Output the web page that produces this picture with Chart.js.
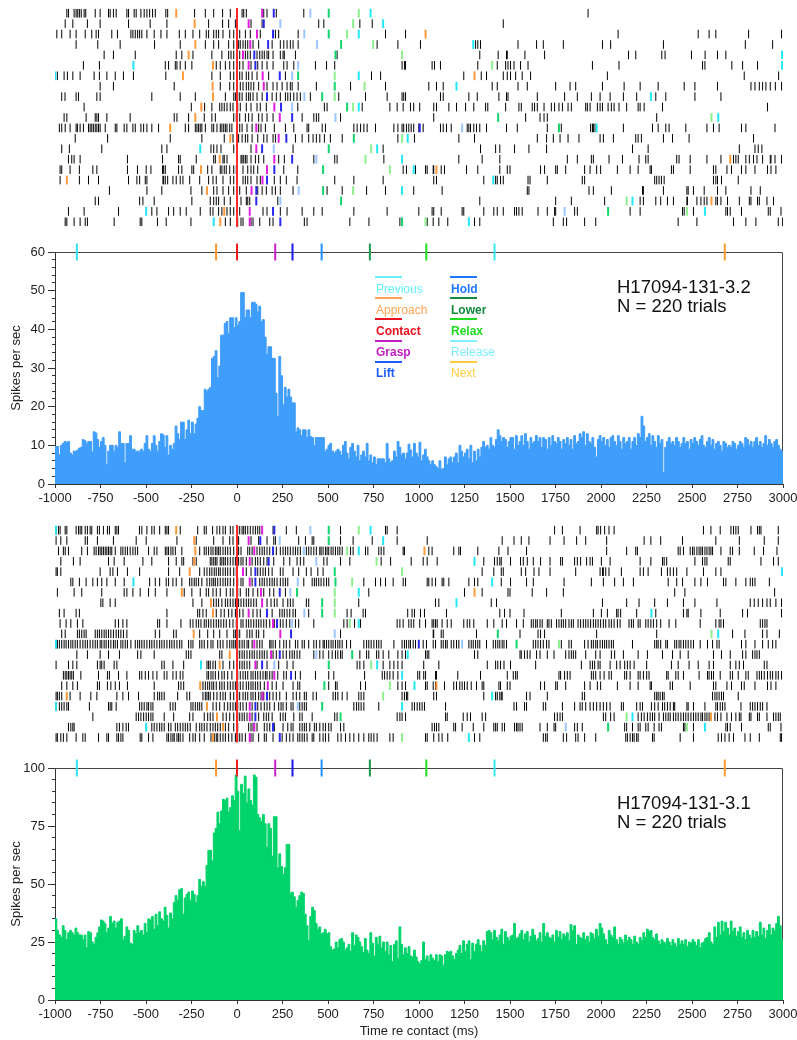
<!DOCTYPE html>
<html>
<head>
<meta charset="utf-8">
<title>Contact-aligned rasters and firing rate</title>
<script src="https://cdn.jsdelivr.net/npm/chart.js@4.4.1/dist/chart.umd.min.js"></script>
<style>
  html, body { margin: 0; padding: 0; background: #fff; }
  body { width: 797px; height: 1040px; position: relative; overflow: hidden;
         font-family: "Liberation Sans", Arial, Helvetica, sans-serif; }
  canvas { position: absolute; left: 0; }
  .unit { position: absolute; left: 617px; font-size: 18.5px; line-height: 19px; color: #111; white-space: pre; }
  .key-line { position: absolute; width: 27px; height: 2px; }
  .key-text { position: absolute; font-size: 12px; line-height: 14px; white-space: nowrap; }
</style>
</head>
<body>
<canvas id="rasterTop" width="797" height="236" style="top:0"></canvas>
<canvas id="histTop" width="797" height="279" style="top:236px"></canvas>
<canvas id="rasterBottom" width="797" height="235" style="top:515px"></canvas>
<canvas id="histBottom" width="797" height="290" style="top:750px"></canvas>
<div class="unit" style="top:277px">H17094-131-3.2
N = 220 trials</div>
<div class="unit" style="top:793px">H17094-131-3.1
N = 220 trials</div>
<div id="key"></div>
<script>
// ---- event legend ----
const legendNames = ['Previous', 'Approach', 'Contact', 'Grasp', 'Lift', 'Hold', 'Lower', 'Relax', 'Release', 'Next'];
const legendColors = ['#66f0ff', '#ffa252', '#e8121e', '#c41ec8', '#1d5cff', '#1f78ff', '#138a3c', '#1fdb1f', '#7ef0ff', '#ffcc3d'];
const legendBold = [false, false, true, true, true, true, true, true, false, false];

// ---- mean event times marked above each histogram (ms re contact) ----
const eventTimes = [-880, -115, 0, 210, 305, 465, 730, 1040, 1415, 2680];
const eventColors = ['#2ee6f2', '#ff9a2e', '#ee1c1c', '#c81ec8', '#1a1ae6', '#1e90ff', '#1a9a4a', '#22dd22', '#36e8f6', '#ff9a2e'];

// ---- histograms: 10 ms bins from -1000 ms ----
const binStart = -1000;
const binWidth = 10;
const rateTop = [
  9.7,9.7,7.5,10,10.5,11,10.8,11,8,7.5,8.5,8.5,8.8,9.3,9.5,11.5,11.2,10.5,11,11,8.3,13.5,13.2,11.5,9.5,
  11,12,10,5,8.5,10,10,8.5,10,9.5,13.5,10.5,10.5,5.5,10.5,10.5,12.5,9,9,8.5,8.5,8.5,9,8.5,10.5,
  12.5,9,8.5,10.5,12.5,10,8.5,11,13,12.7,9.5,12.5,7.5,10,9,10.5,15,13,11.5,16,16,11.5,14,16.5,13,
  16,13,15.5,17,20,19,19,24.5,24,24.5,25,32.5,33,34.5,27.5,30.5,38.5,38.5,41.5,42,39,43,43,40.5,43,
  41,42,49.5,49.5,43,45,45,43,47,47,46.5,44.5,46,42,42.5,38,33.5,35.5,35.5,32.5,32.5,23.5,17.5,33,28,
  20.5,25,22.5,24.5,22.5,21,21,13.5,14.5,14,12.5,14,14,12,14,12.3,12,10,12,12,12,12,12,8.5,9,
  10,10.5,8.5,8,8.5,9,8.5,7.5,10,11,8,6.5,9.5,10.5,8.5,7,10,6,7.5,8.5,7,10.5,6,7.5,5.5,
  7,5,6.5,6.5,6.5,6.5,5.5,10.5,6.5,5.5,6,8.5,7,11,9.5,7.5,8,6.5,8,10.3,8.8,7,10.5,8,7,
  10.8,6,7.5,9,7,6,5,6,5,4.5,4,6,3.8,4,7,5,6.5,7,5.5,7,8,5.5,10,8.5,7,
  8,9,6.5,10,5.5,8.5,6,9,7,9.5,11,9.5,10,9,12,10,9.5,11.5,14,12.5,11,12,11.5,9.5,11,
  12,12,9,12.5,10,11,12.5,10,13,11,9,12,10.5,11,12.5,11,12,9.5,12,11.5,9,12,10,12.5,11,
  10.5,12,11,9,11.5,10.5,12,10,11.5,9,12.5,10.5,11,13,12,13.5,10,13,11,10.5,12,9.5,7,11.5,12.5,
  11,12,10,11.5,9.5,12,12.5,11,10,12.5,11,9,12,10.5,11,12,9,11,12,10,13,12,17.5,15,11,
  12,13,10,12.5,11,9.5,12.5,10.5,11.5,3,9.5,11,12,10.5,11,10,12,11,9.5,10.5,12,10.5,11,9,11.5,
  10.5,12,11,10,11.5,12.5,10,9.5,11,12,10,11.5,9,10.5,11,10,8.5,11,10.5,9.5,10,9.5,11,10.5,9,
  10,11,10.5,9.5,12,11.5,10,11,9.5,11,12,10,11,9.5,10.5,12.5,10,11.5,10.5,9.5,11,11.5,10,9,8.5
];
const rateBottom = [
  35,30,28,27,32,30,26,29,30,29,28,31,29,28,28,26,28,22.5,29.5,29,25,24,27,29,31.5,
  34.5,34,33,29,31,36,33,34,31,33.5,34,35,26,27.5,31.5,30,24.5,24,30,28.5,32,29,30,28,33,
  29,35,34.5,36,30.5,37,32,38,35,34,40,36.5,31,37.5,35,42,45,43,47.5,48,37,44,45.5,46.5,43,
  47,45.5,42,45,52,49,51,49,58,64.5,64.5,60,72,74,81,76,81.5,86.5,86,87,81,83,88,86,97,
  90,73,93,89,96.5,85,91,86,84,97,96,80,78.5,77,80,76,66,76,74,62,79,79,57,63,57.5,
  54,57,67,67,46,46.5,44.5,40,43,45,46.5,46,37,32,25.5,36,40,38.5,33,30.5,31.5,28.5,29,30.5,28.5,
  29,23,21.5,22,25,22.5,26,26.5,25,21.5,22.5,24,21,29,23.5,28,27,25,23,20.5,26.5,21.5,20,29,24.5,
  19,27,24,27.5,22.5,25,21,25,19.5,23.5,16.5,24,25.5,18,31.5,24,19.5,22.5,20,23,19,18.5,21.5,18.5,16.5,
  15.5,17,25,17.5,19,16.5,19.5,18,17,19.5,16.5,19.5,19,15,19.5,21,20.5,21,19,17.5,20,21.5,23.5,20,25.5,
  21,24,25.5,17.5,24.5,21,24,26,23.5,21,25.5,23.5,29.5,30,29,26,30,27,25.5,28,30.5,24,29.5,27,25.5,
  27.5,28,33,26.5,27,28.5,30,26,28.5,29.5,25,27.5,30.5,28,25.5,26.5,29,25,33,27.5,29,27,26.5,28,25,
  30,27,29.5,26,28.5,27.5,29,25.5,32.5,30,32,24,28,27,26.5,29,26,27.5,25,29,28.5,26.5,30.5,27.5,33,
  31,28.5,26,24,30,28,27,31.5,26,24,27,26,24.5,28,25.5,27,26,24,27.5,25,24,27,25.5,29,27,
  30.5,29.5,30,27,26,28.5,25.5,24,26,25,24.5,26.5,25,23.5,26,24.5,23,26.5,24,25.5,24,26,23,25,24.5,
  26,25,23.5,26,22.5,24.5,25,26.5,27,29,25,24,31.5,27,33.5,28,34,29.5,33.5,31,28,34,29.5,31,27.5,
  29.5,31.5,27,29,26,30,28,26.5,30,27,29.5,27.5,33.5,28,31,26.5,30,32.5,28,31,30,33,36,32,26
];

// ---- raster of unit 3.2: spike times (ms re contact), one list per displayed trial ----
const spikesTop = [
  [-935,-926,-895,-884,-875,-866,-856,-840,-831,-779,-752,-706,-697,-679,-664,-605,-596,-565,-554,-528,-510,-495,-480,-464,-449,-391,-381,-233,-174,-128,-79,-37,28,37,51,147,165,216,367,1929],
  [-944,-902,-822,-752,-596,-477,-385,-156,-79,-46,-9,77,138,449,477,675,743,1463],
  [-990,-963,-917,-884,-834,-798,-774,-761,-688,-657,-583,-572,-559,-546,-535,-523,-495,-455,-418,-385,-317,-284,-242,-205,-169,-156,-128,-114,-101,-77,-40,-18,15,46,73,128,211,229,336,816,926,2094,2534,2594,2631,2811,2992],
  [-884,-765,-642,-453,-312,-174,-128,-101,-46,-18,9,18,33,46,59,88,119,193,238,257,275,293,308,336,770,884,1008,1311,1323,1338,1544,1646,1683,1793,2008,2053,2343,2793,2943],
  [-730,-679,-559,-334,-303,-242,-138,-83,-46,-33,-18,15,46,59,73,110,125,138,150,165,174,198,238,253,260,321,550,1334,1435,1481,1485,1582,1690,2151,2191,2334,2352,2497,2572,2640,2686],
  [-844,-756,-394,-376,-339,-330,-312,-284,-248,-114,-92,-64,-40,-18,15,33,77,114,138,165,198,257,275,312,431,492,537,907,920,926,1072,1085,1118,1323,1430,1476,1489,1503,1522,1558,1599,1953,2099,2558,2571,2719,2778,2860],
  [-987,-950,-932,-902,-862,-785,-756,-715,-669,-624,-569,-391,-138,-92,-37,-18,15,28,51,64,83,110,174,266,739,789,1246,1342,1371,1463,1485,1503,1531,1567,1613,2035,2787,2976],
  [-752,-679,-345,-92,-40,-18,18,33,51,64,77,92,119,165,198,220,248,275,293,303,336,436,624,816,1054,1096,1133,1402,1430,1544,1595,1751,1830,1861,2008,2127,2215,2314,2457,2516,2640,2824,2846,2870,2888,2906,2930,2958,2992],
  [-963,-945,-884,-871,-770,-752,-468,-312,-229,-64,-18,-9,4,15,28,51,64,73,88,110,138,193,216,238,266,279,293,312,330,348,403,559,706,825,907,916,926,1118,1133,1274,1320,1439,1481,1489,1650,1800,1870,1947,1995,2050,2123,2196,2301,2356,2516,2659],
  [-840,-251,-178,-138,-95,-83,-70,-55,-37,-22,4,18,51,77,110,128,161,334,480,495,688,840,880,913,953,971,1004,1081,1096,1164,1206,1256,1301,1366,1378,1476,1549,1562,1622,1635,1650,1687,1727,1745,1769,1788,1819,1837,1916,1925,1940,1980,1995,2008,2039,2057,2072,2099,2141,2204,2215,2237,2338,2915],
  [-950,-935,-829,-779,-770,-761,-715,-587,-345,-330,-266,-180,-138,-119,-18,-4,15,46,64,83,119,138,165,198,358,422,436,449,569,1081,1586,1665,1687,1705,2306],
  [-976,-963,-944,-917,-884,-877,-862,-844,-816,-807,-798,-789,-779,-770,-761,-752,-724,-669,-660,-620,-605,-572,-559,-528,-513,-495,-468,-431,-284,-266,-229,-220,-211,-202,-193,-174,-138,-128,-110,-92,-83,-73,-64,-55,-40,-28,15,28,55,83,119,132,156,205,266,312,385,394,468,486,642,660,679,697,715,761,862,884,907,916,931,944,957,971,999,1023,1118,1133,1151,1177,1265,1274,1283,1301,1316,1334,1371,1481,1540,1705,1782,1943,1953,1958,1967,2123,2283,2314,2356,2374,2466,2582,2618,2649,2772,2796,2956],
  [-889,-711,-367,-193,-70,-22,9,28,46,59,83,114,147,165,198,211,321,358,394,418,436,455,480,513,578,884,975,1219,1305,1650,1701,1738,1775,1819,1879,1995,2013,2068,2191,2204,2222,2343,2393,2484,2838],
  [-963,-921,-743,-413,-385,-143,-128,-110,-88,-18,77,308,803,1338,1421,1444,1525,1604,1701,2173,2259,2760,2846,2864,2884],
  [-926,-908,-895,-862,-602,-409,-321,-312,-224,-128,-119,-77,-70,-55,22,28,37,46,55,77,101,119,147,229,260,422,537,550,807,1219,1347,1444,1815,1870,1947,1958,2044,2118,2209,2246,2259,2416,2429,2490,2582,2659,2728,2741,2754,2796,2815,2838,2857,2888,2930,2934,2956,2992],
  [-972,-963,-917,-866,-792,-770,-602,-547,-499,-473,-409,-403,-394,-321,-303,-248,-238,-161,-138,-92,-83,-70,-59,-40,-18,-4,33,59,77,92,114,257,334,913,931,981,1036,1045,1078,1081,1122,1140,1261,1323,1444,1485,1500,1668,1690,1751,1760,1806,1910,1940,1976,1998,2090,2160,2204,2270,2277,2387,2398,2490,2618,2631,2692,2717,2772,2796,2846,2915,2934,2961],
  [-972,-866,-816,-761,-596,-550,-535,-504,-495,-407,-403,-394,-381,-352,-334,-312,-297,-260,-205,-156,-132,-114,-77,-37,-18,33,46,59,77,110,128,205,238,271,330,537,642,803,1081,1096,1356,1421,1430,1448,1463,1599,1610,1705,1897,1910,2295,2306,2319,2332,2347,2618,2631,2640,2662,2754],
  [-701,-495,-413,-253,-193,-128,-110,-77,-46,-18,15,51,114,138,161,193,211,238,308,495,578,712,816,971,1127,1595,1604,1934,1958,2057,2228,2233,2343,2472,2479,2508,2567,2640,2686,2824,2875],
  [-779,-761,-535,-517,-455,-248,-147,-128,-114,-101,-70,-37,22,51,59,70,224,1334,1751,1837,2020,2215,2233,2301,2328,2365,2398,2472,2475,2527,2549,2567,2582,2631,2640,2659,2695,2760,2815,2824,2860,2870,2912,2948],
  [-926,-840,-651,-468,-440,-376,-348,-312,-279,-202,-147,-132,-101,-83,-55,-37,-18,15,143,165,238,275,358,422,468,642,825,999,1072,1081,1122,1237,1246,1356,1411,1430,1463,1525,1536,1549,1567,1654,1705,1745,1751,1855,1870,2160,2215,2448,2457,2508,2686,2695,2710,2772,2919,2930,2989],
  [-944,-935,-895,-862,-834,-822,-675,-532,-523,-437,-389,-253,-64,-37,4,22,33,77,88,125,180,198,370,385,620,725,895,1045,1078,1109,1158,1305,1334,1738,1793,1811,1910,1971,2424,2527,2728,2796,2851,2974,2998]
];
const prevTop     = [null,null,null,null,null,-569,-998,null,null,null,null,null,null,-202,null,null,null,null,null,-499,-128];
const approachTop = [-334,-233,null,-229,-266,-132,-297,-134,-132,-196,-229,-367,-37,null,-95,-198,null,-165,null,-70,-92];
const graspTop    = [138,64,110,73,33,64,141,147,null,205,235,106,229,106,205,165,140,80,null,70,70];
const liftTop     = [202,147,198,171,95,101,235,null,165,242,303,1004,271,138,303,205,165,106,106,198,238];
const holdTop     = [403,238,370,440,null,336,303,null,370,303,541,1237,null,202,436,null,null,339,238,1800,null];
const lowerTop    = [504,null,504,572,541,null,336,537,468,605,1435,1769,642,504,null,473,null,473,572,2039,907];
const relaxTop    = [669,638,605,748,907,1402,537,701,537,638,2607,null,907,737,706,840,null,638,2141,2472,1036];
const releaseTop  = [734,803,669,1298,2995,2995,669,1206,2274,669,2644,1976,938,770,907,971,1408,907,2173,2571,1274];
const nextTop     = [null,null,1036,null,null,null,1305,null,null,null,null,null,null,null,2710,1096,-935,null,2607,null,null];

// ---- raster of unit 3.1 ----
const spikesBottom = [
  [-994,-981,-972,-944,-935,-884,-871,-862,-853,-834,-822,-807,-798,-767,-756,-734,-712,-701,-669,-660,-651,-536,-523,-495,-468,-455,-425,-394,-385,-376,-312,-216,-180,-169,-134,-110,-95,-77,-64,-37,-22,4,15,28,37,46,59,73,88,101,114,125,198,271,326,569,816,825,880,1745,1788,1885,1976,1984,1998,2020,2044,2072,2563,2604,2655,2714,2728,2741,2754,2824,2860,2870,2879,2974],
  [-994,-968,-935,-834,-822,-767,-679,-554,-499,-330,-224,-128,-77,-40,-22,9,77,119,165,202,211,339,376,413,422,569,638,743,880,1045,1457,1522,1562,1604,1720,1797,1866,1916,2031,2237,2274,2328,2448,2631,2760,2897,2974],
  [-981,-954,-944,-926,-853,-822,-785,-774,-761,-752,-743,-734,-724,-715,-706,-697,-688,-669,-638,-627,-614,-602,-587,-572,-559,-546,-486,-455,-440,-394,-385,-376,-363,-352,-339,-303,-205,-180,-169,-156,-143,-132,-119,-110,-101,-92,-77,-64,-51,-37,-18,9,22,59,70,83,110,125,138,150,165,180,216,238,253,266,279,293,308,321,334,348,381,394,407,422,436,455,462,473,486,495,504,517,528,541,554,565,578,624,638,706,719,779,792,807,913,920,1054,1072,1191,1219,1228,1323,1439,1489,1591,2031,2141,2191,2200,2424,2435,2453,2490,2503,2512,2527,2539,2549,2558,2571,2582,2594,2604,2613,2659,2710,2723,2760,2842,2893,2967],
  [-968,-899,-862,-706,-675,-620,-517,-468,-376,-334,-303,-293,-242,-224,-147,-138,-128,-119,-110,-92,-83,-73,-64,-51,-37,-22,-9,9,22,33,51,83,101,114,128,147,165,202,257,290,330,348,367,477,495,569,620,792,844,957,1023,1045,1100,1356,1415,1430,1444,1452,1503,1558,1573,1595,1628,1668,1720,1778,1788,1855,1870,1888,1921,1940,1953,2002,2050,2215,2274,2338,2347,2361,2516,2558,2571,2582,2699,2710,2879,2948,2974],
  [-994,-987,-968,-752,-697,-682,-657,-602,-535,-376,-315,-205,-180,-165,-150,-138,-125,-114,-101,-92,-77,-64,-51,-37,-18,-4,51,77,114,128,143,156,174,193,238,253,308,339,381,407,444,473,1347,1411,1452,1463,1562,1586,1632,1659,1720,1861,1995,2008,2013,2026,2044,2112,2215,2233,2259,2332,2365,2380,2398,2416,2472,2563,2631,2659],
  [-913,-902,-866,-829,-792,-767,-743,-715,-669,-620,-480,-449,-425,-389,-376,-352,-334,-303,-260,-248,-235,-224,-211,-193,-165,-150,-138,-128,-119,-106,-92,-77,-64,-51,-37,-18,4,22,33,83,125,138,150,165,180,193,205,220,238,253,266,279,367,413,425,436,449,462,477,492,504,697,761,789,816,858,913,926,1045,1054,1072,1091,1127,1136,1164,1274,1305,1323,1452,1503,1591,1628,1797,1947,2013,2075,2123,2178,2369,2416,2448,2516,2549,2585,2673,2686,2741,2796,2820,2833,2846,2925],
  [-987,-895,-853,-743,-620,-605,-572,-532,-486,-449,-385,-290,-248,-202,-169,-156,-132,-114,-92,-59,-37,-22,4,18,51,64,88,114,147,180,202,266,724,1250,1347,1489,1500,1622,1701,1793,2405,2461,2954],
  [-748,-737,-697,-669,-242,-193,-128,-114,-101,-83,-64,-51,-37,-22,-9,9,22,37,51,64,77,92,106,165,187,205,220,253,279,293,308,381,394,669,1091,1109,1397,1426,2008,2141,2209,2295,2365,2453,2516,2637,2820,2842,2864,2888,2912,2930,2961,2992],
  [-976,-950,-884,-866,-385,-216,-205,-187,-169,-114,-88,-70,-46,-28,-9,15,33,88,110,128,193,235,248,260,275,290,308,321,394,605,627,693,706,938,962,975,1008,1030,1151,1444,1470,1500,1577,1782,1958,2002,2035,2086,2094,2108,2196,2301,2453,2472,2479,2549,2655,2778,2805,2992],
  [-972,-939,-913,-877,-847,-669,-651,-627,-605,-436,-425,-385,-308,-257,-242,-224,-211,-198,-180,-169,-156,-143,-128,-114,-101,-88,-73,-59,-40,-22,-4,22,33,51,64,77,92,106,119,132,147,161,180,205,238,253,271,290,321,339,422,587,605,646,679,880,895,913,944,957,971,1004,1036,1072,1081,1091,1100,1127,1155,1177,1246,1265,1279,1301,1375,1411,1457,1481,1536,1573,1617,1628,1641,1650,1665,1677,1705,1714,1727,1756,1769,1782,1793,1806,1824,1837,1848,1874,1888,1903,1916,1929,1943,1958,1971,1984,1998,2013,2026,2044,2057,2072,2090,2105,2154,2167,2178,2204,2215,2246,2259,2274,2288,2306,2328,2374,2411,2545,2631,2649,2659,2673,2875,2888,2901,2912],
  [-963,-944,-877,-866,-853,-840,-829,-779,-767,-756,-743,-730,-719,-706,-693,-679,-664,-651,-638,-624,-605,-449,-425,-348,-334,-205,-161,-128,-95,-55,-18,-9,4,15,55,70,83,106,119,147,569,1078,1081,1122,1133,1316,1555,1654,1668,1690,1976,2306,2723,2791,2888,2912,2980],
  [-994,-987,-976,-963,-950,-939,-926,-913,-902,-889,-877,-862,-847,-834,-822,-807,-792,-779,-767,-752,-743,-730,-719,-706,-693,-679,-669,-657,-638,-627,-614,-602,-583,-559,-546,-535,-523,-510,-495,-480,-468,-455,-440,-425,-413,-400,-385,-370,-358,-345,-330,-315,-303,-266,-253,-242,-205,-193,-180,-161,-143,-132,-106,-92,-77,-55,-40,-28,-18,-9,4,15,28,40,55,64,83,110,125,138,180,187,198,211,235,257,271,290,321,334,358,370,394,422,436,455,473,480,492,504,517,528,541,554,565,578,602,624,697,712,724,737,752,767,779,792,862,907,920,931,944,953,968,981,1023,1041,1078,1091,1122,1133,1146,1155,1177,1191,1206,1219,1274,1287,1298,1311,1323,1334,1371,1408,1421,1433,1444,1457,1467,1481,1628,1641,1654,1668,1683,1701,1714,1782,1824,1837,1910,1929,1947,1958,1971,1980,1995,2008,2020,2031,2044,2057,2068,2173,2295,2306,2314,2328,2356,2365,2405,2416,2429,2439,2453,2466,2479,2494,2508,2545,2585,2613,2637,2649,2772,2796,2846,2888,2919,2943,2961],
  [-880,-822,-752,-706,-646,-546,-528,-455,-279,-266,-253,-95,-83,4,15,28,40,55,70,83,95,110,125,138,150,165,198,216,253,271,290,303,315,330,345,422,455,473,504,523,541,554,569,578,675,712,724,767,779,803,834,884,907,926,1036,1045,1054,1305,1323,1555,1562,1580,1595,1610,1646,1665,1705,1742,1806,1824,1837,1848,1861,1916,1971,1995,2057,2075,2123,2204,2255,2338,2393,2435,2479,2618,2662,2710,2778,2796,2833,2846,2857,2870],
  [-994,-926,-902,-880,-767,-752,-743,-730,-675,-660,-413,-400,-352,-293,-165,-156,-147,-132,-119,-77,-40,-18,15,28,40,55,70,110,165,229,275,308,660,675,697,803,840,862,884,907,1026,1109,1375,1421,1433,1448,1467,1503,1641,1892,1940,1953,1965,1984,1995,2050,2086,2105,2130,2145,2160,2182,2251,2387,2424,2484,2534,2594,2618,2710,2741,2760,2783,2897,2912],
  [-954,-944,-935,-926,-917,-908,-899,-858,-761,-712,-701,-651,-605,-535,-523,-504,-486,-462,-440,-400,-385,-352,-334,-312,-297,-165,-156,-143,-132,-119,-101,-83,-70,-51,-28,4,18,33,46,59,77,88,101,114,128,143,156,165,180,193,224,257,271,321,348,431,504,532,701,798,811,825,840,858,884,993,1004,1026,1036,1091,1096,1213,1338,1485,1518,1531,1540,1769,1778,1800,1815,1830,1947,1958,1971,1995,2017,2044,2057,2130,2141,2160,2204,2215,2233,2251,2264,2361,2369,2411,2424,2453,2539,2585,2594,2607,2618,2655,2710,2723,2754,2796,2809,2857,2870,2882,2897,2915,2930,2943,2961,2974,2992],
  [-963,-935,-902,-877,-767,-756,-712,-693,-669,-646,-602,-455,-321,-308,-293,-187,-174,-161,-150,-138,-128,-114,-95,-83,-70,-51,-37,-22,-9,4,18,33,51,64,77,88,101,114,128,150,193,216,253,308,334,345,504,541,550,679,706,884,907,926,1036,1045,1078,1091,1140,1191,1206,1224,1237,1250,1265,1287,1316,1347,1356,1439,1448,1485,1500,1668,1690,1751,1760,1806,1910,1940,1980,1998,2090,2160,2204,2270,2277,2380,2393,2490,2618,2631,2692,2717,2772,2787,2846,2915,2934,2961],
  [-994,-987,-976,-963,-917,-862,-803,-770,-660,-627,-596,-541,-455,-436,-425,-413,-400,-326,-275,-260,-187,-174,-165,-156,-147,-128,-110,-92,-77,-64,-37,-18,4,15,33,46,59,77,88,101,119,132,147,180,198,216,235,271,308,326,345,370,381,418,436,528,541,554,578,605,669,682,697,907,920,931,938,1081,1096,1356,1421,1430,1444,1452,1457,1591,1610,1705,1897,1910,2295,2306,2314,2325,2338,2347,2613,2626,2637,2649,2662,2673,2754],
  [-994,-976,-963,-950,-935,-926,-811,-706,-697,-688,-664,-535,-523,-510,-495,-486,-473,-462,-367,-352,-339,-253,-242,-229,-216,-205,-193,-132,-114,-95,-70,-51,-37,-22,-9,4,18,33,51,83,114,132,150,165,180,205,229,242,253,271,297,308,345,358,370,381,642,657,669,682,697,779,962,975,990,1004,1017,1030,1146,1522,1536,1580,1591,1683,1696,1788,1855,1885,1897,1916,1940,1958,1976,1995,2013,2031,2050,2112,2123,2196,2215,2228,2277,2295,2314,2338,2350,2365,2380,2398,2405,2472,2479,2508,2571,2631,2640,2655,2668,2681,2769,2820,2833,2846,2860,2875,2888,2912],
  [-792,-554,-541,-528,-513,-499,-486,-473,-462,-400,-348,-260,-242,-180,-161,-147,-132,-77,-59,-40,-18,4,15,28,40,55,83,119,147,161,174,193,238,253,266,312,345,358,413,537,550,880,895,907,926,1146,1155,1243,1265,1283,1347,1366,1745,1760,1775,1788,2013,2026,2053,2072,2204,2222,2237,2255,2270,2283,2295,2319,2343,2356,2369,2380,2398,2411,2424,2439,2453,2466,2479,2494,2508,2521,2534,2549,2558,2571,2582,2594,2626,2640,2659,2692,2717,2741,2760,2769,2815,2824,2860,2870,2912,2948,2961,2974,2985],
  [-926,-913,-902,-895,-660,-646,-627,-609,-596,-468,-455,-440,-425,-413,-400,-376,-363,-339,-326,-312,-297,-284,-271,-257,-224,-205,-193,-180,-165,-147,-132,-119,-106,-92,-64,-46,-18,4,64,77,88,110,150,165,180,205,253,279,297,308,345,358,370,381,400,425,436,455,473,486,504,517,569,587,1072,1085,1096,1109,1191,1201,1237,1298,1356,1411,1421,1430,1457,1470,1525,1536,1544,1555,1567,1665,1705,1742,1751,1855,1870,1897,2130,2141,2173,2204,2215,2246,2259,2292,2319,2332,2453,2461,2508,2686,2695,2710,2772,2919,2930,2989],
  [-994,-987,-968,-954,-935,-884,-847,-834,-761,-715,-706,-660,-651,-638,-627,-532,-523,-486,-462,-385,-376,-363,-352,-345,-330,-321,-312,-297,-260,-242,-229,-205,-180,-143,-125,-114,-106,-92,-77,-64,-46,-28,-9,4,15,28,46,77,88,119,150,161,198,248,271,290,308,334,345,358,370,385,413,422,455,473,486,504,554,572,596,620,642,669,697,724,737,752,770,840,858,1036,1045,1081,1109,1127,1158,1305,1334,1683,1696,1705,1793,1811,1861,1874,1910,1971,2136,2145,2160,2173,2182,2196,2204,2283,2292,2435,2508,2644,2662,2681,2704,2728,2791,2820,2870,2985,2992]
];
const prevBottom     = [-995,null,null,null,null,-569,null,null,null,null,null,-995,null,-198,null,null,null,-995,null,-499,null];
const approachBottom = [-334,-235,-229,-235,-260,null,-303,-143,-132,null,-238,null,-40,-95,null,-202,null,-165,-110,-77,-132];
const graspBottom    = [138,64,95,70,33,70,132,138,64,198,238,95,187,101,205,169,140,70,70,95,70];
const liftBottom     = [205,128,198,174,101,101,235,null,165,220,297,999,235,138,297,null,165,101,101,198,235];
const holdBottom     = [403,235,367,436,null,334,293,null,370,303,537,1237,436,205,null,null,null,334,null,1806,null];
const lowerBottom    = [504,504,null,null,537,541,330,468,468,null,1433,1536,633,504,null,480,null,468,569,2039,null];
const relaxBottom    = [669,null,605,767,907,633,537,537,537,620,2607,1769,null,737,null,840,803,null,2141,2472,907];
const releaseBottom  = [734,803,669,1305,2995,1402,669,1206,2277,669,2644,null,938,770,907,975,1402,907,2173,2571,1274];
const nextBottom     = [null,null,1030,null,null,null,1305,null,null,null,null,null,null,null,null,1096,-935,null,2604,null,null];

// ---- drawing ----
const FONT = "'Liberation Sans', Arial, Helvetica, sans-serif";
Chart.defaults.font.family = FONT;
Chart.defaults.color = '#222';
Chart.defaults.animation = false;
Chart.defaults.plugins.legend.display = false;
Chart.defaults.plugins.tooltip.enabled = false;

// colours of the per-trial event ticks in the rasters
const markColors = {
  prev: '#22e4f4', approach: '#ff9a3c', contact: '#ff2a2a', grasp: '#e01ee0', lift: '#2828f0',
  hold: '#9cc6ff', lower: '#14d46c', relax: '#8fef8f', release: '#22e8f8', next: '#ff9a3c'
};

function tickSet(times, color, order, radius) {
  const pts = [];
  times.forEach((t, row) => { if (t !== null) pts.push({ x: t, y: row }); });
  return {
    data: pts, order: order,
    pointStyle: 'line', pointRotation: 90,
    pointRadius: radius, pointHoverRadius: radius,
    pointBorderWidth: 2, pointBorderColor: color, pointBackgroundColor: color
  };
}

function rasterChart(id, spikes, marks, padTop, padBottom) {
  const rows = spikes.length;
  const spikePts = [];
  spikes.forEach((list, row) => list.forEach(t => spikePts.push({ x: t, y: row })));
  const contact = spikes.map(() => 0);
  const datasets = [{
    data: spikePts, order: 10,
    pointStyle: 'line', pointRotation: 90, pointRadius: 4.3, pointHoverRadius: 4.3,
    pointBorderWidth: 1, pointBorderColor: '#000'
  }];
  Object.keys(marks).forEach(k => datasets.push(tickSet(marks[k], markColors[k], 2, 4.4)));
  datasets.push(tickSet(contact, markColors.contact, 1, 5.3));
  new Chart(document.getElementById(id), {
    type: 'scatter',
    data: { datasets },
    options: {
      responsive: false,
      layout: { padding: { left: 55, right: 14, top: padTop, bottom: padBottom } },
      scales: {
        x: { type: 'linear', min: -1000, max: 3000, display: false },
        y: { type: 'linear', min: -0.5, max: rows - 0.5, reverse: true, display: false }
      }
    }
  });
}

// top and right edges of the histogram frame
const framePlugin = {
  id: 'frame',
  beforeDatasetsDraw(chart) {
    const { ctx, chartArea: a } = chart;
    ctx.save();
    ctx.strokeStyle = '#444';
    ctx.lineWidth = 1;
    ctx.beginPath();
    ctx.moveTo(a.left, Math.round(a.top) + 0.5);
    ctx.lineTo(Math.round(a.right) - 0.5, Math.round(a.top) + 0.5);
    ctx.lineTo(Math.round(a.right) - 0.5, a.bottom);
    ctx.stroke();
    ctx.restore();
  }
};

function histChart(id, rates, color, yMax, major, minor, padTop, axisHeight, xTitle) {
  const pts = rates.map((v, i) => ({ x: binStart + i * binWidth, y: v }));
  pts.push({ x: binStart + rates.length * binWidth, y: rates[rates.length - 1] });
  const tickFont = { size: 13 };
  new Chart(document.getElementById(id), {
    type: 'line',
    data: {
      datasets: [
        {
          type: 'scatter', order: 0, clip: false,
          data: eventTimes.map(t => ({ x: t, y: yMax })),
          pointStyle: 'line', pointRotation: 90, pointRadius: 8.5, pointHoverRadius: 8.5,
          pointBorderWidth: 2, pointBorderColor: eventColors
        },
        {
          order: 1, data: pts, stepped: 'before',
          fill: 'origin', backgroundColor: color, borderColor: color, borderWidth: 1,
          pointRadius: 0, pointHoverRadius: 0
        }
      ]
    },
    options: {
      responsive: false,
      layout: { padding: { left: 0, right: 14, top: padTop, bottom: 0 } },
      scales: {
        x: {
          type: 'linear', min: -1000, max: 3000,
          ticks: { stepSize: 250, autoSkip: false, maxRotation: 0, minRotation: 0, font: tickFont, color: '#222',
                   callback: v => String(v) },
          grid: { drawOnChartArea: false, drawTicks: true, tickLength: 4, color: '#333' },
          border: { display: true, color: '#333' },
          title: { display: !!xTitle, text: xTitle || '', font: { size: 13 }, color: '#222', padding: { top: 0, bottom: 1 } },
          // end labels may hang past the plot edges
          afterFit: s => { s.height = axisHeight; s.paddingLeft = 0; s.paddingRight = 0; }
        },
        y: {
          position: 'left', weight: 1, min: 0, max: yMax,
          ticks: { stepSize: major, font: tickFont, color: '#222', padding: 3 },
          grid: { drawOnChartArea: false, drawTicks: true, tickLength: 7, color: '#333' },
          border: { display: true, color: '#333' },
          title: { display: true, text: 'Spikes per sec', font: { size: 13 }, color: '#222', padding: { top: 9, bottom: 0 } },
          afterFit: s => { s.width = 55; s.paddingTop = 0; s.paddingBottom = 0; }
        },
        yMinor: {
          position: 'left', weight: 0, min: 0, max: yMax,
          ticks: { stepSize: minor, display: false },
          grid: { drawOnChartArea: false, drawTicks: true, tickLength: 3, color: '#333' },
          border: { display: false },
          afterFit: s => { s.width = 0; s.paddingTop = 0; s.paddingBottom = 0; }
        }
      }
    },
    plugins: [framePlugin]
  });
}

rasterChart('rasterTop', spikesTop, {
  prev: prevTop, approach: approachTop, grasp: graspTop, lift: liftTop, hold: holdTop,
  lower: lowerTop, relax: relaxTop, release: releaseTop, next: nextTop
}, 8, 9);
histChart('histTop', rateTop, '#3f9dfb', 60, 10, 2, 16, 31, null);
rasterChart('rasterBottom', spikesBottom, {
  prev: prevBottom, approach: approachBottom, grasp: graspBottom, lift: liftBottom, hold: holdBottom,
  lower: lowerBottom, relax: relaxBottom, release: releaseBottom, next: nextBottom
}, 10, 6);
histChart('histBottom', rateBottom, '#00d36a', 100, 25, 5, 18, 40, 'Time re contact (ms)');

// event key inside the upper histogram
const key = document.getElementById('key');
legendNames.forEach((name, i) => {
  const col = Math.floor(i / 5), row = i % 5;
  const left = [375, 450][col];
  const top = 276 + row * 21.2;
  const line = document.createElement('div');
  line.className = 'key-line';
  line.style.left = left + 'px';
  line.style.top = top.toFixed(1) + 'px';
  line.style.background = legendColors[i];
  const text = document.createElement('div');
  text.className = 'key-text';
  text.style.left = (left + 1) + 'px';
  text.style.top = (top + 5.5).toFixed(1) + 'px';
  text.style.color = legendColors[i];
  text.style.fontWeight = legendBold[i] ? 'bold' : 'normal';
  text.textContent = name;
  key.appendChild(line);
  key.appendChild(text);
});
</script>
</body>
</html>
